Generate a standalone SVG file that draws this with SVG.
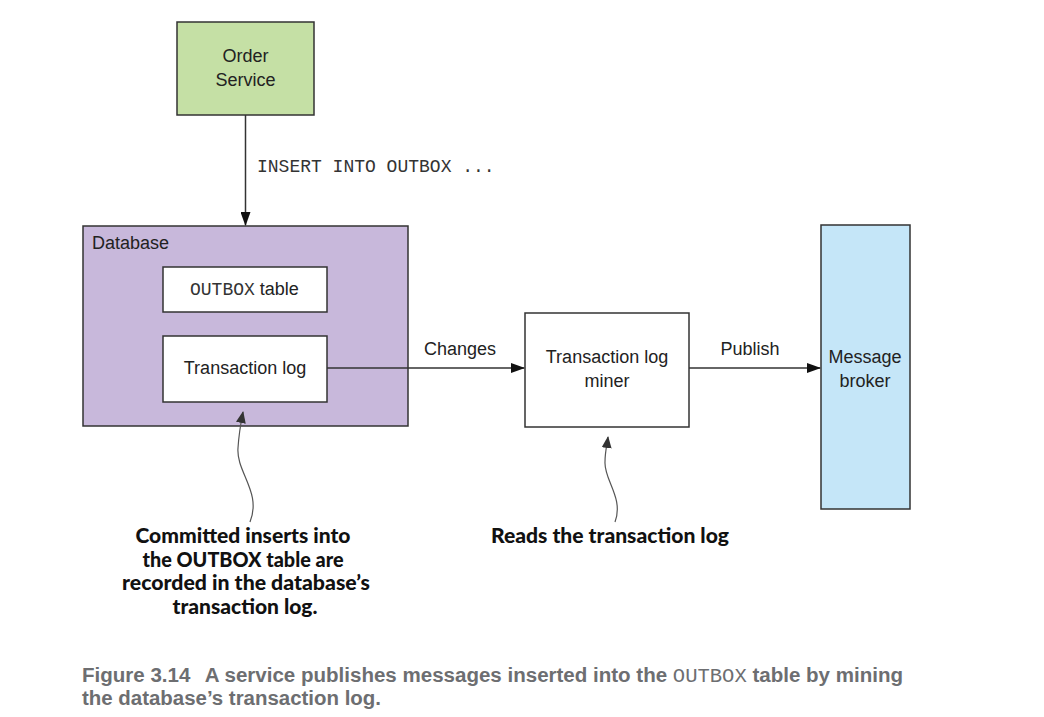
<svg xmlns="http://www.w3.org/2000/svg" width="1044" height="717" viewBox="0 0 1044 717">
<style>
.box{stroke:#333;stroke-width:1.5}
.t{font-family:"Liberation Sans",Arial,sans-serif;font-size:18px;fill:#222;text-anchor:middle}
.m{font-family:"Liberation Mono","Courier New",monospace;font-size:18px;fill:#333}
.c{font-family:Lato,"Liberation Sans",sans-serif;font-weight:900;font-size:21px;fill:#111;text-anchor:middle}
.cap{font-family:"Liberation Sans",Arial,sans-serif;font-weight:bold;font-size:20px;fill:#6d6e71}
.ln{stroke:#333;stroke-width:1.5;fill:none}
</style>
<defs>
<marker id="ah" markerWidth="14" markerHeight="10" refX="13" refY="5" orient="auto" markerUnits="userSpaceOnUse">
<path d="M0,0 L14,5 L0,10 Z" fill="#111"/>
</marker>
<marker id="ah2" markerWidth="12" markerHeight="10" refX="11" refY="5" orient="auto" markerUnits="userSpaceOnUse">
<path d="M0,0 L12,5 L0,10 Z" fill="#333"/>
</marker>
</defs>
<rect width="1044" height="717" fill="#fff"/>

<g id="order-service">
<rect class="box" x="177" y="22" width="137" height="93" fill="#c5e0a5"/>
<text class="t" x="245.5" y="62">Order</text>
<text class="t" x="245.5" y="86">Service</text>
</g>

<g id="database">
<rect class="box" x="83" y="226" width="325" height="200" fill="#c8b8db"/>
<text class="t" x="92" y="249" style="text-anchor:start">Database</text>
</g>

<g id="outbox-table">
<rect class="box" x="163" y="267" width="164" height="45" fill="#fff"/>
<text x="190" y="295"><tspan class="m">OUTBOX</tspan><tspan class="t" style="text-anchor:start"> table</tspan></text>
</g>

<g id="transaction-log">
<rect class="box" x="163" y="336" width="164" height="66" fill="#fff"/>
<text class="t" x="245" y="374">Transaction log</text>
</g>

<g id="log-miner">
<rect class="box" x="525" y="313" width="164" height="114" fill="#fff"/>
<text class="t" x="607" y="363">Transaction log</text>
<text class="t" x="607" y="387">miner</text>
</g>

<g id="message-broker">
<rect class="box" x="821" y="225" width="89" height="284" fill="#c5e6f8"/>
<text class="t" x="865" y="363">Message</text>
<text class="t" x="865" y="387">broker</text>
</g>

<g id="connectors">
<line class="ln" x1="245.5" y1="115" x2="245.5" y2="225" marker-end="url(#ah)"/>
<text class="m" x="257" y="172">INSERT INTO OUTBOX ...</text>
<line class="ln" x1="327" y1="368" x2="524" y2="368" marker-end="url(#ah)"/>
<text class="t" x="460" y="355">Changes</text>
<line class="ln" x1="689" y1="368" x2="820" y2="368" marker-end="url(#ah)"/>
<text class="t" x="750" y="355">Publish</text>
<path class="ln" style="stroke:#555;stroke-width:1.2" d="M250,522 C262,492 236,472 238,448 C239,432 241,422 243,412" marker-end="url(#ah2)"/>
<path class="ln" style="stroke:#555;stroke-width:1.2" d="M615,522 C624,498 604,480 605,462 C605,452 607,445 608,437" marker-end="url(#ah2)"/>
</g>

<g id="callouts">
<text class="c" x="243" y="543" textLength="215" lengthAdjust="spacingAndGlyphs">Committed inserts into</text>
<text class="c" x="243" y="567" textLength="201" lengthAdjust="spacingAndGlyphs">the OUTBOX table are</text>
<text class="c" x="246" y="590" textLength="248" lengthAdjust="spacingAndGlyphs">recorded in the database’s</text>
<text class="c" x="245" y="614" textLength="145" lengthAdjust="spacingAndGlyphs">transaction log.</text>
<text class="c" x="610" y="543" textLength="238" lengthAdjust="spacingAndGlyphs">Reads the transaction log</text>
</g>

<g id="caption">
<text class="cap" x="82" y="682" textLength="821" lengthAdjust="spacingAndGlyphs">Figure 3.14<tspan dx="14">A service publishes messages inserted into the </tspan><tspan style="font-family:'Liberation Mono',monospace;font-weight:normal">OUTBOX</tspan> table by mining</text>
<text class="cap" x="82" y="705" textLength="299" lengthAdjust="spacingAndGlyphs">the database’s transaction log.</text>
</g>
</svg>
